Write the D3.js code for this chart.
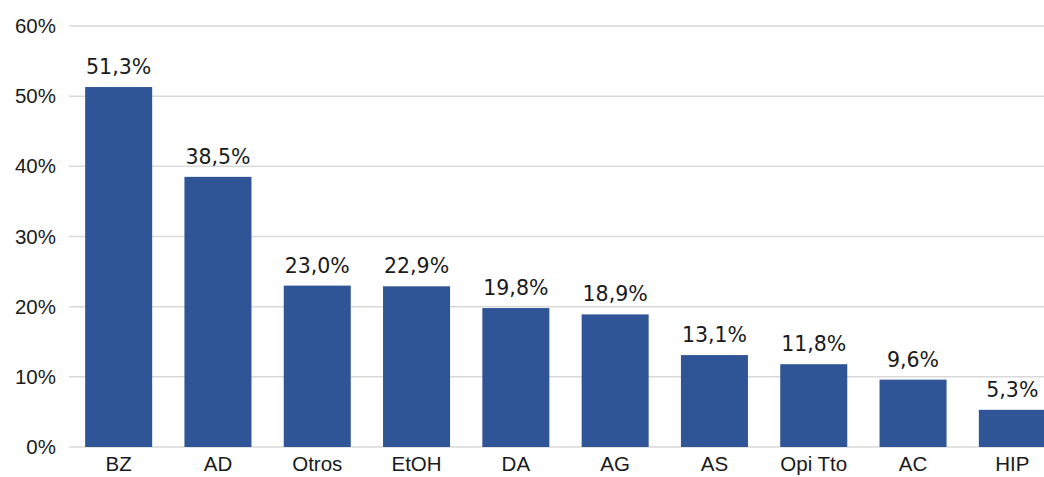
<!DOCTYPE html>
<html>
<head>
<meta charset="utf-8">
<script src="https://cdn.jsdelivr.net/npm/d3@7"></script>
<style>
  body { margin: 0; background: #fff; }
  svg { display: block; font-family: "DejaVu Sans", "Liberation Sans", sans-serif; }
  .tick text { fill: #1a1a1a; font-size: 20.5px; }
  .value-label { fill: #1a1a1a; font-size: 20.5px; }
</style>
</head>
<body>
<div id="svg-container"></div>
<script>
// data
const categories = ["BZ", "AD", "Otros", "EtOH", "DA", "AG", "AS", "Opi Tto", "AC", "HIP"];
const values = [51.3, 38.5, 23.0, 22.9, 19.8, 18.9, 13.1, 11.8, 9.6, 5.3];
const yTicks = [0, 10, 20, 30, 40, 50, 60];

const width = 1044;
const height = 477;
const margin = { top: 26, right: -18, bottom: 30, left: 69 };

const svg = d3
  .select("#svg-container")
  .append("svg")
  .attr("width", width)
  .attr("height", height);

// scales
const xScale = d3
  .scaleBand()
  .domain(categories)
  .range([margin.left, width - margin.right])
  .paddingInner(0.325)
  .paddingOuter(0.1625);

const yScale = d3
  .scaleLinear()
  .domain([0, 60])
  .range([height - margin.bottom, margin.top]);

const fmt = (v) => d3.format(".1f")(v).replace(".", ",") + "%";

// gridlines
svg
  .append("g")
  .selectAll("line")
  .data(yTicks)
  .enter()
  .append("line")
  .attr("x1", margin.left)
  .attr("x2", width)
  .attr("y1", (d) => yScale(d))
  .attr("y2", (d) => yScale(d))
  .attr("stroke", "#d9d9d9")
  .attr("stroke-width", 1.5);

// y axis
const yAxis = d3
  .axisLeft(yScale)
  .tickValues(yTicks)
  .tickFormat((d) => d + "%")
  .tickSize(0)
  .tickPadding(13);

svg
  .append("g")
  .attr("class", "y-axis")
  .attr("transform", `translate(${margin.left}, 0)`)
  .call(yAxis)
  .call((g) => g.select(".domain").remove());

// bars
svg
  .selectAll(".bar")
  .data(values)
  .enter()
  .append("rect")
  .attr("class", "bar")
  .attr("x", (d, i) => xScale(categories[i]))
  .attr("y", (d) => yScale(d))
  .attr("width", xScale.bandwidth())
  .attr("height", (d) => yScale(0) - yScale(d))
  .attr("fill", "#2F5597");

// value labels
svg
  .selectAll(".value-label")
  .data(values)
  .enter()
  .append("text")
  .attr("class", "value-label")
  .attr("x", (d, i) => xScale(categories[i]) + xScale.bandwidth() / 2)
  .attr("y", (d) => yScale(d) - 13)
  .attr("text-anchor", "middle")
  .text((d) => fmt(d));

// x axis (labels lifted a little so they fit in the window)
const xAxis = d3.axisBottom(xScale).tickSize(0).tickPadding(9.5);

svg
  .append("g")
  .attr("class", "x-axis")
  .attr("transform", `translate(0, ${height - margin.bottom})`)
  .call(xAxis)
  .call((g) => g.select(".domain").remove());
</script>
</body>
</html>
